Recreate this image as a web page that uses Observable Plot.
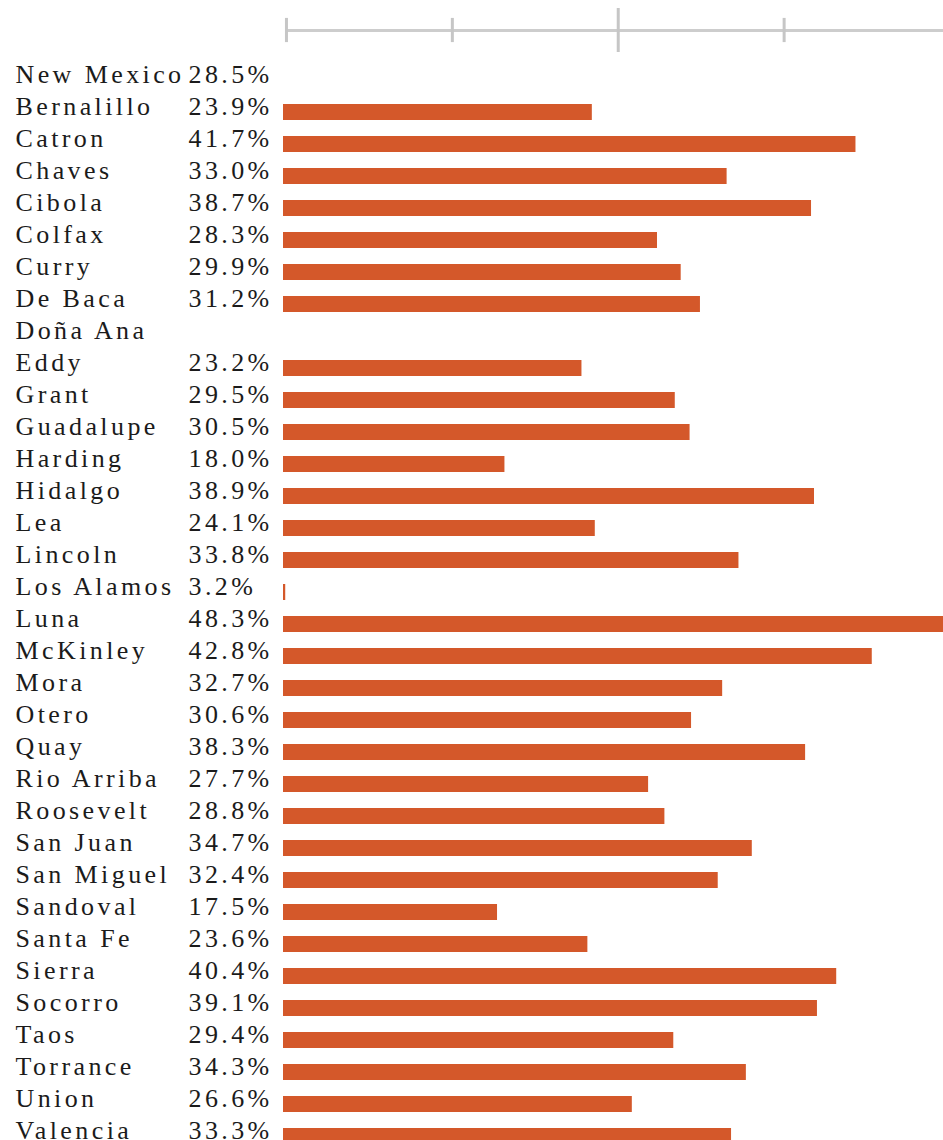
<!DOCTYPE html>
<html>
<head>
<meta charset="utf-8">
<script src="https://cdn.jsdelivr.net/npm/d3@7"></script>
<script src="https://cdn.jsdelivr.net/npm/@observablehq/plot@0.6"></script>
<style>
  html, body { margin: 0; padding: 0; background: #ffffff; overflow: hidden; }
  svg { display: block; }
  #chart svg text { letter-spacing: 3.4px; }
</style>
</head>
<body>
<div id="axis"></div>
<div id="chart"></div>
<script>
// ---- data ----
const stateName = "New Mexico";
const stateValue = 28.5;
const counties = ["Bernalillo","Catron","Chaves","Cibola","Colfax","Curry","De Baca","Doña Ana","Eddy","Grant","Guadalupe","Harding","Hidalgo","Lea","Lincoln","Los Alamos","Luna","McKinley","Mora","Otero","Quay","Rio Arriba","Roosevelt","San Juan","San Miguel","Sandoval","Santa Fe","Sierra","Socorro","Taos","Torrance","Union","Valencia"];
const values = [23.9,41.7,33.0,38.7,28.3,29.9,31.2,null,23.2,29.5,30.5,18.0,38.9,24.1,33.8,3.2,48.3,42.8,32.7,30.6,38.3,27.7,28.8,34.7,32.4,17.5,23.6,40.4,39.1,29.4,34.3,26.6,33.3];
const axisTicks = [3.25, 14.45, 25.65, 36.85];
const axisTickHalf = [0.55, 0.55, 1, 0.55];
const xDomain = [3.05, 47.61];

// ---- derived tables ----
const names = [stateName, ...counties];
const rows = names.map((n, i) => ({name: n, value: i === 0 ? stateValue : values[i - 1], bar: i > 0}));
const bars = rows.filter(d => d.bar && d.value != null);
const labelled = rows.filter(d => d.value != null);
const tickData = axisTicks.map((t, i) => ({x: t, h: axisTickHalf[i]}));

const W = 943;
const font = "'Liberation Serif', 'Times New Roman', serif";
const xScale = {domain: xDomain, type: "linear"};

// ---- top decorative axis ----
const axisPlot = Plot.plot({
  width: W, height: 60,
  marginLeft: 283, marginRight: 0, marginTop: 0, marginBottom: 0,
  x: {...xScale, axis: null},
  y: {domain: [-1, 1], range: [52, 8], axis: null},
  marks: [
    Plot.ruleY([0], {x1: axisTicks[0], x2: xDomain[1] + 2, stroke: "#cdcdcd", strokeWidth: 3}),
    Plot.ruleX(tickData, {x: "x", y1: d => -d.h, y2: d => d.h, stroke: "#c6c6c6", strokeWidth: 3})
  ]
});
document.getElementById("axis").appendChild(axisPlot);

// ---- main bars ----
const chart = Plot.plot({
  width: W, height: 1092,
  marginLeft: 283, marginRight: 0, marginTop: 4, marginBottom: 0,
  x: {...xScale, axis: null},
  y: {domain: names, paddingInner: 0.5, paddingOuter: 0.25, axis: null},
  style: {fontFamily: font, background: "#ffffff"},
  marks: [
    Plot.barX(bars, {x1: () => xDomain[0] - 5, x2: "value", y: "name", fill: "#d4582a", clip: true}),
    Plot.text(rows, {y: "name", text: "name", frameAnchor: "left", dx: -268, dy: -6, textAnchor: "start",
      fontSize: 26, fill: "#1b1b1b", fontFamily: font}),
    Plot.text(labelled, {y: "name", text: d => d.value.toFixed(1) + "%", frameAnchor: "left", dx: -95, dy: -6, textAnchor: "start",
      fontSize: 26, fill: "#1b1b1b", fontFamily: font})
  ]
});
document.getElementById("chart").appendChild(chart);
</script>
</body>
</html>
